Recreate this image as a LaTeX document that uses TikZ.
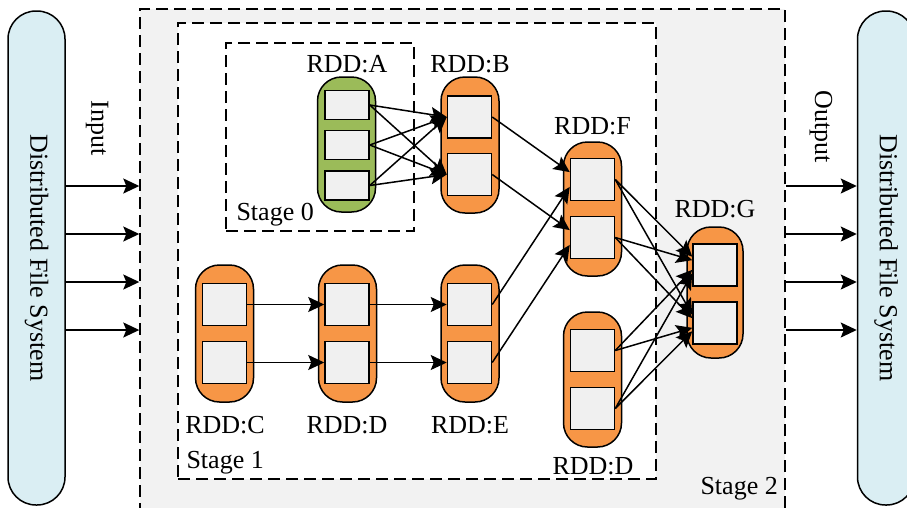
\documentclass[tikz,border=0pt]{standalone}
\usepackage{fontspec}
\setmainfont{Liberation Serif}
\usepackage{xcolor}
\usepackage{tikz}
\usetikzlibrary{arrows.meta,positioning,calc}
\definecolor{rddorange}{HTML}{F79646}
\definecolor{rddgreen}{HTML}{9BBB59}
\definecolor{dfsblue}{HTML}{DAEEF3}
\definecolor{partgray}{HTML}{F0F0F0}
\definecolor{stagegray}{HTML}{F2F2F2}

\begin{document}
\begin{tikzpicture}[x=1pt,y=-1pt,font=\fontsize{26}{30}\selectfont,
	pill/.style={draw,line width=1.5pt,rounded corners=24pt,inner sep=0pt,minimum width=58pt},
	part/.style={draw,fill=partgray,line width=1.5pt,inner sep=0pt,minimum width=44pt,minimum height=42pt},
	stagebox/.style={draw,line width=1.4pt,dash pattern=on 12pt off 6pt,inner sep=0pt},
	flow/.style={-{Stealth[length=16pt,width=15pt,inset=3pt]},line width=1.5pt},
	dfs/.style={draw,fill=dfsblue,line width=1.5pt,rounded corners=28pt,inner sep=0pt,minimum width=57pt,minimum height=494pt}]
	\useasboundingbox (0,0) rectangle (907,507);
	\clip (0,0) rectangle (907,507);
	
	\node[stagebox,fill=stagegray,minimum width=645pt,minimum height=520pt] (stageTwo) at (462.5,269) {};
	\node[stagebox,fill=white,minimum width=478pt,minimum height=456pt] (stageOne) at (417,251) {};
	\node[stagebox,fill=white,minimum width=188pt,minimum height=188pt] (stageZero) at (320,137) {};
	\node[anchor=base west] (stageZeroText) at (233,220) {Stage 0};
	\node[anchor=base west] (stageOneText) at (183,468) {Stage 1};
	\node[anchor=base west] (stageTwoText) at (697,494) {Stage 2};
	
	\node[dfs] (dfsIn) at (36.5,258) {};
	\node[dfs] (dfsOut) at (886,258) {};
	\node[rotate=-90] (dfsInText) at (dfsIn) {Distributed File System};
	\node[rotate=-90] (dfsOutText) at (dfsOut) {Distributed File System};
	\node[rotate=-90] (inText) at (97,128) {Input};
	\node[rotate=-90] (outText) at (821,127) {Output};
	\foreach \y in {186,234,282,330}{
		\draw[flow] (dfsIn.east |- 0,\y) -- (stageTwo.west |- 0,\y);
		\draw[flow] (stageTwo.east |- 0,\y) -- (dfsOut.west |- 0,\y);
	}
	
	\node[pill,fill=rddgreen,minimum height=135pt] (rddA) at (346.5,144.5) {};
	\node[part,minimum height=29pt] (a1) at (347,105) {};
	\node[part,minimum height=29pt] (a2) at (347,145) {};
	\node[part,minimum height=29pt] (a3) at (347,185.5) {};
	\node[anchor=base] (labA) at (347,72) {RDD:A};
	
	\node[pill,fill=rddorange,minimum height=136pt] (rddB) at (470,145) {};
	\node[part] (b1) at (469.5,117) {};
	\node[part] (b2) at (469.5,174.5) {};
	\node[anchor=base] (labB) at (470,72) {RDD:B};
	
	\node[pill,fill=rddorange,minimum height=137pt] (rddC) at (224.5,333.5) {};
	\node[part] (c1) at (224.5,304.5) {};
	\node[part] (c2) at (224.5,362.5) {};
	\node[anchor=base] (labC) at (225,433) {RDD:C};
	
	\node[pill,fill=rddorange,minimum height=137pt] (rddD) at (347.5,333.5) {};
	\node[part] (d1) at (347,304.5) {};
	\node[part] (d2) at (347,362.5) {};
	\node[anchor=base] (labD) at (347,433) {RDD:D};
	
	\node[pill,fill=rddorange,minimum height=137pt] (rddE) at (470,333.5) {};
	\node[part] (e1) at (469.5,304.5) {};
	\node[part] (e2) at (469.5,362.5) {};
	\node[anchor=base] (labE) at (470,433) {RDD:E};
	
	\node[pill,fill=rddorange,minimum height=134pt] (rddF) at (592.5,209) {};
	\node[part] (f1) at (592.5,179.5) {};
	\node[part] (f2) at (592.5,237.5) {};
	\node[anchor=base] (labF) at (592.5,134) {RDD:F};
	
	\node[pill,fill=rddorange,minimum height=135pt] (rddDb) at (592.5,379.5) {};
	\node[part] (db1) at (592.5,350.5) {};
	\node[part] (db2) at (592.5,408.5) {};
	\node[anchor=base] (labDb) at (593,474) {RDD:D};
	
	\node[pill,fill=rddorange,minimum width=56pt,minimum height=131pt] (rddG) at (715,292.5) {};
	\node[part] (g1) at (715,265) {};
	\node[part] (g2) at (715,323) {};
	\node[anchor=base] (labG) at (715,217) {RDD:G};
	
	\foreach \i in {1,2,3}
		\foreach \j in {1,2}
			\draw[flow] (a\i.east) -- (b\j.west);
	\foreach \i in {1,2}{
		\draw[flow] (c\i.east) -- (d\i.west);
		\draw[flow] (d\i.east) -- (e\i.west);
		\draw[flow] (b\i.east) -- (f\i.162);
		\draw[flow] (e\i.east) -- (f\i.198);
	}
	\foreach \s/\a in {f1/160,f2/168,db1/192,db2/200}
		\foreach \t in {g1,g2}
			\draw[flow] (\s.east) -- (\t.\a);
\end{tikzpicture}
\end{document}
